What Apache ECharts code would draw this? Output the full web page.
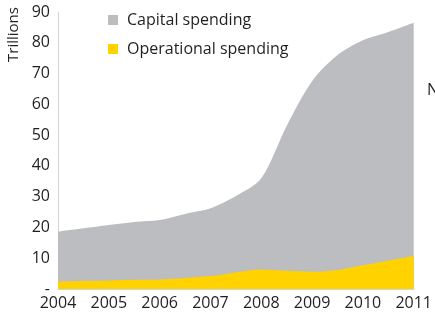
<!DOCTYPE html>
<html>
<head>
<meta charset="utf-8">
<script src="https://cdn.jsdelivr.net/npm/echarts@6/dist/echarts.min.js"></script>
<style>
  html, body { margin: 0; padding: 0; background: #fff; }
  #chart { width: 435px; height: 317px; }
</style>
</head>
<body>
<div id="chart"></div>
<script>
// half-year points
const years = [2004, 2004.5, 2005, 2005.5, 2006, 2006.5, 2007, 2007.5, 2008, 2008.5, 2009, 2009.5, 2010, 2010.5, 2011]
const operational = [2.4, 2.6, 2.8, 3.0, 3.1, 3.6, 4.2, 5.4, 6.3, 5.9, 5.6, 6.2, 7.7, 9.2, 10.7]
// top of the grey area = capital + operational
const total = [18.6, 19.7, 20.8, 21.8, 22.4, 24.4, 26.2, 30.2, 36.0, 53.0, 67.5, 76.0, 80.8, 83.5, 86.5]
const yTicks = [0, 10, 20, 30, 40, 50, 60, 70, 80, 90]

const font = '"Open Sans", sans-serif'
const textColor = '#231f20'

const chart = echarts.init(document.getElementById('chart'))
chart.setOption({
  animation: false,
  grid: { left: 58, right: 19, top: 12, bottom: 28 },
  legend: {
    orient: 'vertical',
    left: 103,
    top: 7,
    itemGap: 13,
    itemWidth: 10,
    itemHeight: 10,
    icon: 'rect',
    data: ['Capital spending', 'Operational spending'],
    textStyle: { fontFamily: font, fontSize: 16, color: textColor, padding: [0, 0, 0, 4] },
  },
  xAxis: {
    type: 'value',
    min: 2004,
    max: 2011,
    interval: 1,
    axisLine: { lineStyle: { color: '#d4d4d4', width: 1 } },
    axisTick: { show: false },
    splitLine: { show: false },
    axisLabel: {
      fontFamily: font,
      fontSize: 16,
      color: textColor,
      margin: 6,
      showMinLabel: true,
      showMaxLabel: true,
      formatter: (v) => String(v),
    },
  },
  yAxis: {
    type: 'value',
    min: yTicks[0],
    max: yTicks[yTicks.length - 1],
    interval: 10,
    axisLine: { show: true, lineStyle: { color: '#d4d4d4', width: 1 } },
    axisTick: { show: false },
    splitLine: { show: false },
    axisLabel: {
      fontFamily: font,
      fontSize: 16,
      color: textColor,
      margin: 8,
      formatter: (v) => (v === 0 ? '-' : String(v)),
    },
  },
  graphic: [
    {
      type: 'text',
      x: 6,
      y: 62,
      rotation: Math.PI / 2,
      style: { text: 'Trillions', fontFamily: font, fontSize: 15, fill: textColor },
    },
    {
      type: 'text',
      x: 427,
      y: 82,
      style: { text: 'N', fontFamily: font, fontSize: 16, fill: textColor },
    },
  ],
  series: [
    {
      name: 'Capital spending',
      type: 'line',
      smooth: 0.3,
      showSymbol: false,
      lineStyle: { width: 0 },
      itemStyle: { color: '#bcbdc0' },
      areaStyle: { color: '#bcbdc0', opacity: 1 },
      z: 2,
      data: years.map((y, i) => [y, total[i]]),
    },
    {
      name: 'Operational spending',
      type: 'line',
      smooth: 0.3,
      showSymbol: false,
      lineStyle: { width: 0 },
      itemStyle: { color: '#ffd200' },
      areaStyle: { color: '#ffd200', opacity: 1 },
      z: 3,
      data: years.map((y, i) => [y, operational[i]]),
    },
  ],
})
</script>
</body>
</html>
